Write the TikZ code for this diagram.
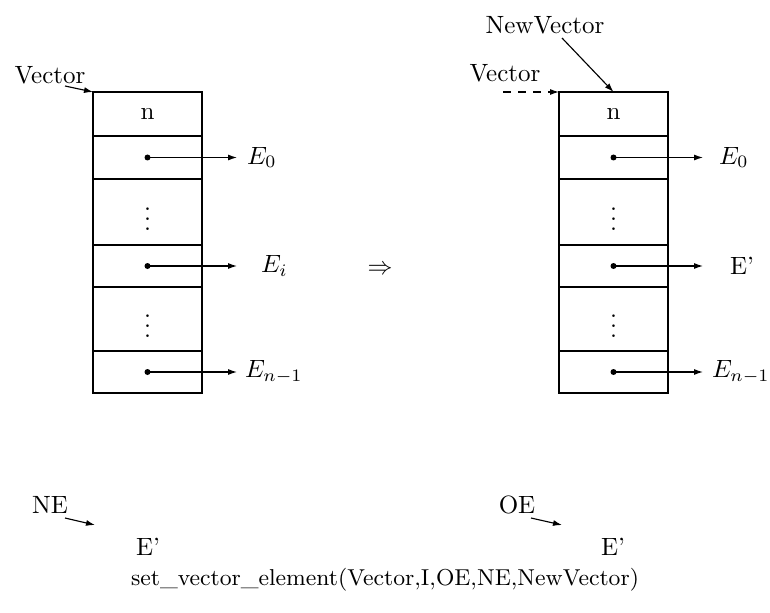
\documentclass[tikz,border=0pt]{standalone}
\usetikzlibrary{arrows.meta}
\begin{document}
\begin{tikzpicture}[x=0.4pt,y=-0.4pt,
  cell/.style={draw, line width=0.6pt, minimum width=43.6pt, inner sep=0pt, outer sep=0pt, anchor=north west, minimum height=#1*0.4pt},
  ptr/.style={line width=0.45pt, -{Latex[length=3.6pt,width=2.4pt]}},
  lab/.style={inner sep=1pt, font=\normalsize},
  dotc/.style={circle, fill, inner sep=0pt, minimum size=2.4pt}]
\useasboundingbox (0,0) rectangle (770,612);
% left vector
\node[cell=44] (l0) at (93,92) {n};
\node[cell=43] (l1) at (93,136) {};
\node[cell=66] (l2) at (93,179) {$\vdots$};
\node[cell=42] (l3) at (93,245) {};
\node[cell=64] (l4) at (93,287) {$\vdots$};
\node[cell=42] (l5) at (93,351) {};
% right vector
\node[cell=44] (r0) at (559,92) {n};
\node[cell=43] (r1) at (559,136) {};
\node[cell=66] (r2) at (559,179) {$\vdots$};
\node[cell=42] (r3) at (559,245) {};
\node[cell=64] (r4) at (559,287) {$\vdots$};
\node[cell=42] (r5) at (559,351) {};
% bullets
\foreach \c in {l1,l3,l5,r1,r3,r5} \node[dotc] (\c d) at (\c.center) {};
% left targets
\coordinate (lt1) at (237,157.5);
\coordinate (lt3) at (237,266);
\coordinate (lt5) at (237,372);
\node[lab, anchor=west] (e0) at (244,157.5) {$E_0$};
\node[lab, anchor=west] (ei) at (258,266) {$E_i$};
\node[lab, anchor=west] (en) at (242,372) {$E_{n-1}$};
\draw[ptr] (l1d.center) -- (lt1);
\draw[ptr] (l3d.center) -- (lt3);
\draw[ptr] (l5d.center) -- (lt5);
% right targets
\coordinate (rt1) at (703,157.5);
\coordinate (rt3) at (703,266);
\coordinate (rt5) at (703,372);
\node[lab, anchor=west] (f0) at (716,157.5) {$E_0$};
\node[lab, anchor=west] (fi) at (727,266) {E'};
\node[lab, anchor=west] (fn) at (709,372) {$E_{n-1}$};
\draw[ptr] (r1d.center) -- (rt1);
\draw[ptr] (r3d.center) -- (rt3);
\draw[ptr] (r5d.center) -- (rt5);
% labels above
\node[lab] (vecL) at (50,75) {Vector};
\coordinate (vLs) at (65,86);
\draw[ptr] (vLs) -- (l0.north west);
\node[lab] (vecR) at (505,73) {Vector};
\coordinate (vRs) at (503,92);
\draw[ptr, dashed] (vRs) -- (r0.north west);
\node[lab] (newv) at (545,25) {NewVector};
\coordinate (nvs) at (562,38);
\draw[ptr] (nvs) -- (r0.north);
% implies
\node[lab] (imp) at (380,270) {$\Rightarrow$};
% bottom
\node[lab] (ne) at (50,505) {NE};
\coordinate (nes) at (65,518);
\coordinate (nee) at (95,525);
\draw[ptr] (nes) -- (nee);
\node[lab] (ep1) at (148,547) {E'};
\node[lab] (oe) at (517,505) {OE};
\coordinate (oes) at (531,518);
\coordinate (oee) at (562,525);
\draw[ptr] (oes) -- (oee);
\node[lab] (ep2) at (613,547) {E'};
\node[lab, font=\fontsize{9.2}{11}\selectfont] (cap) at (385,580) {set\_vector\_element(Vector,I,OE,NE,NewVector)};
\end{tikzpicture}
\end{document}
